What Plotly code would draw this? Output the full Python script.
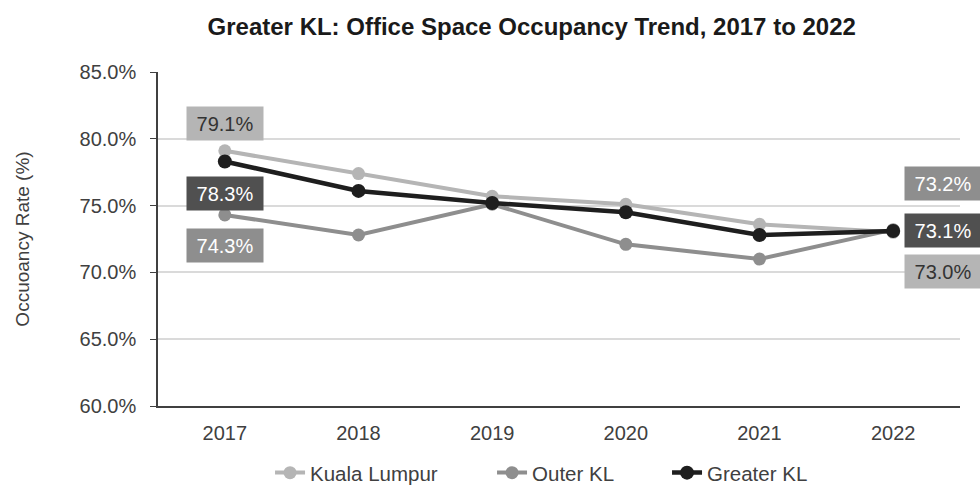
import plotly.graph_objects as go

years = ["2017", "2018", "2019", "2020", "2021", "2022"]
kuala_lumpur = [79.1, 77.4, 75.7, 75.1, 73.6, 73.0]
outer_kl = [74.3, 72.8, 75.1, 72.1, 71.0, 73.2]
greater_kl = [78.3, 76.1, 75.2, 74.5, 72.8, 73.1]
y_ticks = [60, 65, 70, 75, 80, 85]

c_kl = "#b5b5b5"
c_outer = "#8e8e8e"
c_greater = "#1e1e1e"
font_family = "Liberation Sans"

fig = go.Figure()
fig.add_trace(go.Scatter(x=years, y=kuala_lumpur, name="Kuala Lumpur", mode="lines+markers",
                         legend="legend",
                         line=dict(color=c_kl, width=4), marker=dict(size=13, color=c_kl)))
fig.add_trace(go.Scatter(x=years, y=outer_kl, name="Outer KL", mode="lines+markers",
                         legend="legend2",
                         line=dict(color=c_outer, width=4), marker=dict(size=13, color=c_outer)))
fig.add_trace(go.Scatter(x=years, y=greater_kl, name="Greater KL", mode="lines+markers",
                         legend="legend3",
                         line=dict(color=c_greater, width=4.5), marker=dict(size=14, color=c_greater)))

labels = [
    (0, kuala_lumpur[0], c_kl, "#333333", 0, 27),
    (0, greater_kl[0], "#505050", "#ffffff", 0, -32),
    (0, outer_kl[0], c_outer, "#ffffff", 0, -31),
    (5, outer_kl[5], c_outer, "#ffffff", 50, 46),
    (5, greater_kl[5], "#505050", "#ffffff", 50, 0),
    (5, kuala_lumpur[5], c_kl, "#333333", 50, -39),
]
annotations = []
for xi, v, bg, fc, xs, ys in labels:
    annotations.append(dict(x=xi, y=v, xref="x", yref="y", text="%.1f%%" % v, showarrow=False,
                            xshift=xs, yshift=ys, bgcolor=bg, borderpad=0, width=76, height=33,
                            align="center", valign="middle",
                            font=dict(family=font_family, size=20, color=fc)))

legend_style = dict(orientation="h", xanchor="left", y=-0.2, yanchor="middle",
                    bgcolor="rgba(0,0,0,0)", borderwidth=0,
                    font=dict(family=font_family, size=20.5, color="#404040"))

fig.update_layout(
    width=980, height=488,
    paper_bgcolor="white", plot_bgcolor="white",
    margin=dict(l=158, r=20, t=72, b=82, autoexpand=False),
    annotations=annotations,
    title=dict(text="<b>Greater KL: Office Space Occupancy Trend, 2017 to 2022</b>",
               x=0.466, xref="paper", xanchor="center", y=0.945, yanchor="middle",
               font=dict(family=font_family, size=24, color="#1a1a1a")),
    font=dict(family=font_family, size=20, color="#404040"),
    showlegend=True,
    legend=dict(x=0.1397, **legend_style),
    legend2=dict(x=0.4165, **legend_style),
    legend3=dict(x=0.6347, **legend_style),
    xaxis=dict(type="category", range=[-0.5, 5.5], showgrid=False, showline=True,
               linecolor="#404040", linewidth=1.5, ticks="", ticklabelstandoff=8,
               tickfont=dict(size=20, color="#404040"), zeroline=False),
    yaxis=dict(range=[60, 85], tickvals=y_ticks, ticktext=["%.1f%%" % t for t in y_ticks],
               showgrid=True, gridcolor="#dadada", gridwidth=1.5, showline=True,
               linecolor="#404040", linewidth=1.5, ticks="outside", ticklen=6,
               ticklabelstandoff=10,
               tickcolor="#404040", tickfont=dict(size=20, color="#404040"), zeroline=False,
               title=dict(text="Occuoancy Rate (%)", standoff=45,
                          font=dict(size=19, color="#404040"))),
)

fig.write_html("out.html", config={"displayModeBar": False},
               post_script="document.body.style.margin='0';")
